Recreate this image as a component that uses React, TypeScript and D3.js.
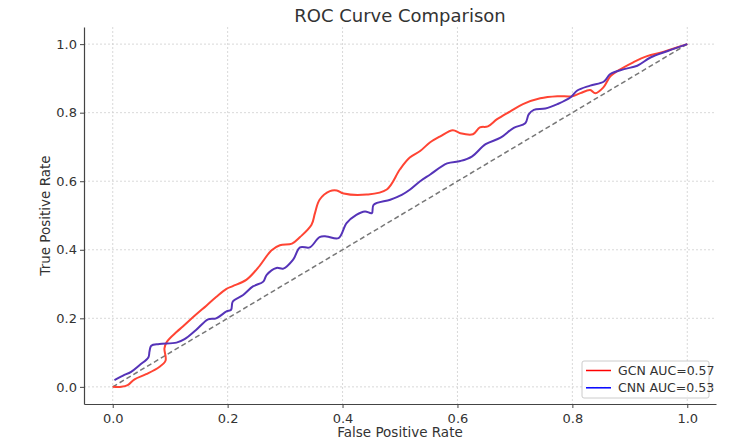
import React, { useEffect, useRef } from 'react';
import * as d3 from 'd3';

// GCN ROC points
const gcnFpr = [0, 0.015, 0.026, 0.038, 0.058, 0.081, 0.092, 0.09, 0.094, 0.111, 0.122, 0.143, 0.163, 0.18, 0.198, 0.209, 0.233, 0.256, 0.276, 0.291, 0.312, 0.326, 0.346, 0.352, 0.36, 0.378, 0.39, 0.402, 0.442, 0.477, 0.5, 0.517, 0.535, 0.552, 0.57, 0.592, 0.605, 0.627, 0.639, 0.653, 0.669, 0.692, 0.714, 0.744, 0.774, 0.8, 0.814, 0.831, 0.84, 0.854, 0.866, 0.878, 0.906, 0.93, 0.958, 0.983, 1];
const gcnTpr = [0, 0, 0.005, 0.022, 0.037, 0.058, 0.077, 0.112, 0.131, 0.16, 0.176, 0.208, 0.237, 0.262, 0.286, 0.294, 0.313, 0.354, 0.398, 0.413, 0.418, 0.437, 0.473, 0.507, 0.546, 0.571, 0.573, 0.564, 0.561, 0.576, 0.635, 0.669, 0.688, 0.713, 0.731, 0.749, 0.74, 0.737, 0.757, 0.76, 0.781, 0.804, 0.825, 0.842, 0.848, 0.848, 0.857, 0.866, 0.857, 0.874, 0.906, 0.921, 0.947, 0.965, 0.977, 0.991, 1];

// CNN ROC points
const cnnFpr = [0.003, 0.018, 0.032, 0.047, 0.062, 0.064, 0.067, 0.081, 0.111, 0.125, 0.145, 0.166, 0.18, 0.198, 0.206, 0.209, 0.227, 0.244, 0.262, 0.268, 0.285, 0.297, 0.314, 0.326, 0.343, 0.36, 0.372, 0.393, 0.407, 0.424, 0.439, 0.451, 0.454, 0.483, 0.503, 0.517, 0.535, 0.552, 0.582, 0.605, 0.625, 0.649, 0.675, 0.698, 0.718, 0.724, 0.733, 0.753, 0.774, 0.797, 0.808, 0.831, 0.855, 0.866, 0.89, 0.913, 0.936, 0.966, 1];
const cnnTpr = [0.02, 0.033, 0.044, 0.064, 0.086, 0.103, 0.12, 0.125, 0.129, 0.139, 0.166, 0.197, 0.2, 0.22, 0.225, 0.249, 0.268, 0.293, 0.307, 0.327, 0.347, 0.345, 0.371, 0.407, 0.407, 0.437, 0.439, 0.434, 0.478, 0.502, 0.512, 0.507, 0.531, 0.546, 0.56, 0.575, 0.6, 0.619, 0.652, 0.659, 0.672, 0.708, 0.727, 0.756, 0.769, 0.795, 0.808, 0.812, 0.825, 0.845, 0.864, 0.879, 0.891, 0.913, 0.927, 0.937, 0.961, 0.98, 1];

const ticks = [0, 0.2, 0.4, 0.6, 0.8, 1.0];
const legendLabels = ['GCN AUC=0.57', 'CNN AUC=0.53'];

const App: React.FC = () => {
  const svgRef = useRef<SVGSVGElement>(null);

  useEffect(() => {
    if (!svgRef.current) return;
    const svg = d3.select(svgRef.current);
    svg.selectAll('*').remove();

    const W = 747, H = 444;
    const margin = { top: 27, right: 31, bottom: 40, left: 84 };
    const font = 'DejaVu Sans, sans-serif';

    const x = d3.scaleLinear().domain([-0.05, 1.05]).range([margin.left, W - margin.right]);
    const y = d3.scaleLinear().domain([-0.05, 1.05]).range([H - margin.bottom, margin.top]);

    svg.append('rect').attr('width', W).attr('height', H).attr('fill', '#fff');

    // grid
    const grid = svg.append('g');
    ticks.forEach(t => {
      grid.append('line')
        .attr('x1', x(t)).attr('x2', x(t))
        .attr('y1', margin.top).attr('y2', H - margin.bottom)
        .attr('stroke', '#cfcfcf').attr('stroke-width', 0.8).attr('stroke-dasharray', '2,2');
      grid.append('line')
        .attr('x1', margin.left).attr('x2', W - margin.right)
        .attr('y1', y(t)).attr('y2', y(t))
        .attr('stroke', '#cfcfcf').attr('stroke-width', 0.8).attr('stroke-dasharray', '2,2');
    });

    // axes
    const xAxis = svg.append('g')
      .attr('transform', `translate(0,${H - margin.bottom})`)
      .call(d3.axisBottom(x).tickValues(ticks).tickFormat(d3.format('.1f')).tickSize(4).tickSizeOuter(0));
    const yAxis = svg.append('g')
      .attr('transform', `translate(${margin.left},0)`)
      .call(d3.axisLeft(y).tickValues(ticks).tickFormat(d3.format('.1f')).tickSize(4).tickSizeOuter(0));
    [xAxis, yAxis].forEach(a => {
      a.select('.domain').attr('stroke', '#444').attr('stroke-width', 1.2);
      a.selectAll('.tick line').attr('stroke', '#444');
      a.selectAll('.tick text').attr('font-family', font).attr('font-size', 13).attr('fill', '#333');
    });
    xAxis.selectAll('.tick text').attr('dy', '0.9em');

    // diagonal
    svg.append('line')
      .attr('x1', x(0)).attr('y1', y(0)).attr('x2', x(1)).attr('y2', y(1))
      .attr('stroke', '#777').attr('stroke-width', 1.5).attr('stroke-dasharray', '5,3');

    const line = d3.line<[number, number]>()
      .x(d => x(d[0])).y(d => y(d[1]))
      .curve(d3.curveCatmullRom.alpha(0.5));

    svg.append('path')
      .attr('d', line(gcnFpr.map((f, i) => [f, gcnTpr[i]] as [number, number])))
      .attr('fill', 'none').attr('stroke', '#ff4433').attr('stroke-width', 2);
    svg.append('path')
      .attr('d', line(cnnFpr.map((f, i) => [f, cnnTpr[i]] as [number, number])))
      .attr('fill', 'none').attr('stroke', '#5533b8').attr('stroke-width', 2);

    // title and labels
    svg.append('text').attr('x', (margin.left + W - margin.right) / 2).attr('y', 22)
      .attr('text-anchor', 'middle').attr('font-family', font).attr('font-size', 18).attr('fill', '#333')
      .text('ROC Curve Comparison');
    svg.append('text').attr('x', (margin.left + W - margin.right) / 2).attr('y', 437)
      .attr('text-anchor', 'middle').attr('font-family', font).attr('font-size', 13.5).attr('fill', '#333')
      .text('False Positive Rate');
    svg.append('text')
      .attr('transform', `translate(50,${(margin.top + H - margin.bottom) / 2}) rotate(-90)`)
      .attr('text-anchor', 'middle').attr('font-family', font).attr('font-size', 13.5).attr('fill', '#333')
      .text('True Positive Rate');

    // legend
    const lg = svg.append('g').attr('transform', 'translate(582,361)');
    lg.append('rect').attr('width', 127).attr('height', 37).attr('rx', 2)
      .attr('fill', '#fff').attr('fill-opacity', 0.8).attr('stroke', '#ccc');
    ['#ff0000', '#0000ff'].forEach((c, i) => {
      lg.append('line').attr('x1', 4).attr('x2', 29).attr('y1', 9.5 + i * 17.3).attr('y2', 9.5 + i * 17.3)
        .attr('stroke', c).attr('stroke-width', 1.5);
      lg.append('text').attr('x', 36).attr('y', 9.5 + i * 17.3).attr('dy', '0.35em')
        .attr('font-family', font).attr('font-size', 12.5).attr('fill', '#333')
        .text(legendLabels[i]);
    });
  }, []);

  return (
    <svg ref={svgRef} width={747} height={444}
      style={{ position: 'absolute', left: 0, top: 0, display: 'block' }} />
  );
};

export default App;
